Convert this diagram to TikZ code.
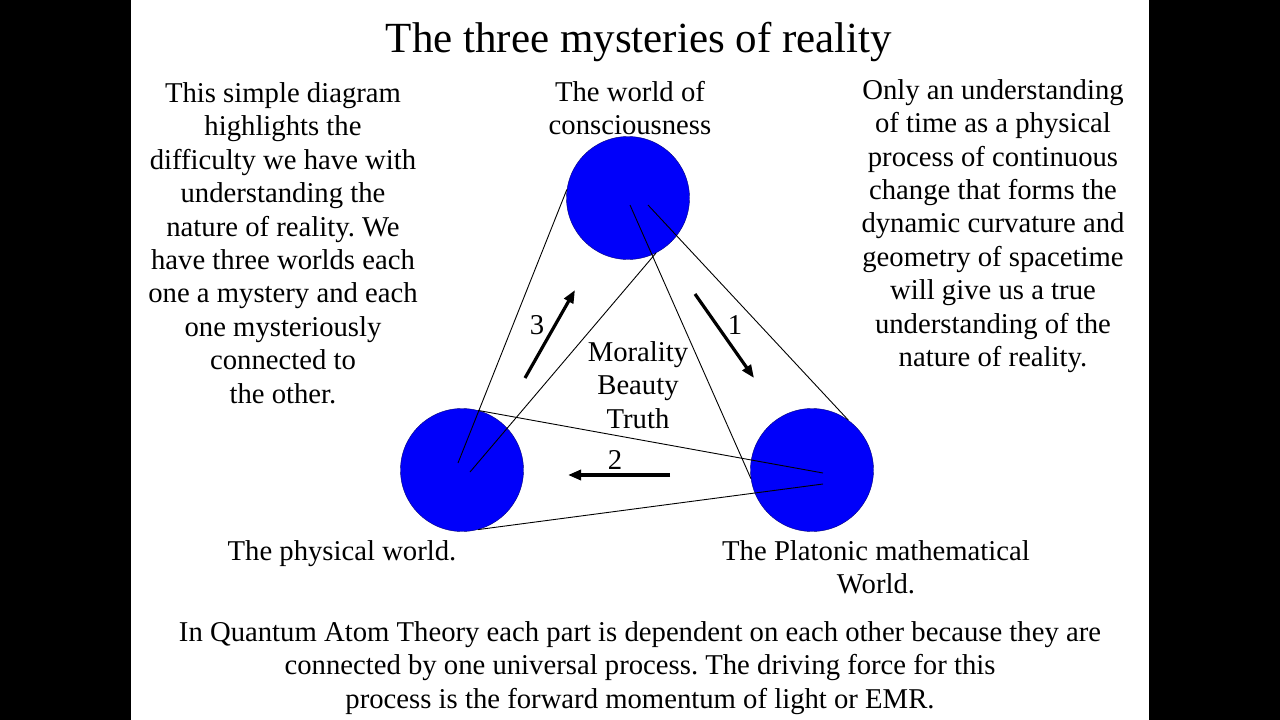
\documentclass[tikz,border=0pt]{standalone}
\usepackage{fontspec}
\setmainfont{Liberation Serif}
\usetikzlibrary{arrows.meta, positioning, calc}
\frenchspacing
\definecolor{worldblue}{RGB}{0,0,250}
\definecolor{worldedge}{RGB}{0,0,120}
\tikzset{
  world/.style  = {circle, fill=worldblue, draw=worldedge, thin, minimum size=123pt, inner sep=0pt},
  txt/.style    = {align=center, inner sep=0pt, font=\fontsize{28.7}{33.4}\selectfont},
  link/.style   = {draw=black, line width=0.9pt},
  flow/.style   = {-{Triangle[length=13pt, width=10pt]}, line width=3.2pt},
}

\begin{document}
\begin{tikzpicture}[x=1pt, y=-1pt]
  \useasboundingbox (0,0) rectangle (1280,720);
  % slide and side bars
  \fill[white] (131,0) rectangle (1149,720);
  \fill[black] (0,0) rectangle (131,720);
  \fill[black] (1149,0) rectangle (1280,720);

  \node[txt, font=\fontsize{43}{50}\selectfont] (title) at (639,42) {The three mysteries of reality};

  % the three worlds
  \node[world] (mind)  at (628,198) {};
  \node[world] (phys)  at (462,470) {};
  \node[world] (plato) at (812,470) {};

  \node[txt] (mindlbl)  at (630,108) {The world of\\consciousness};
  \node[txt] (physlbl)  at (342,554) {The physical world.};
  \node[txt] (platolbl) at (876,567) {The Platonic mathematical\\World.};

  % connections
  \draw[link] (mind.172) -- ($(phys)+(-4,-7)$);
  \draw[link] ($(mind)+(2,7)$) -- (plato.188);
  \draw[link] ($(mind)+(20,7)$) -- (plato.54);
  \draw[link] (mind.-63) -- ($(phys)+(8,2)$);
  \draw[link] (phys.75) -- ($(plato)+(11,3)$);
  \draw[link] (phys.-75) -- ($(plato)+(11,14)$);

  % direction of the process
  \coordinate (a3s) at (525,378); \coordinate (a3e) at (575,290);
  \coordinate (a1s) at (695,294); \coordinate (a1e) at (754,378);
  \coordinate (a2s) at (670,475); \coordinate (a2e) at (568,475);
  \draw[flow] (a1s) -- (a1e);
  \draw[flow] (a2s) -- (a2e);
  \draw[flow] (a3s) -- (a3e);
  \node[txt] (n1) at (735,325) {1};
  \node[txt] (n2) at (615,460) {2};
  \node[txt] (n3) at (537,325) {3};

  \node[txt] (values) at (638,385) {Morality\\Beauty\\Truth};

  \node[txt] (lefttxt) at (283,243) {This simple diagram\\highlights the\\difficulty we have with\\understanding the\\nature of reality. We\\have three worlds each\\one a mystery and each\\one mysteriously\\connected to\\the other.};
  \node[txt] (righttxt) at (993,226) {Only an understanding\\of time as a physical\\process of continuous\\change that forms the\\dynamic curvature and\\geometry of spacetime\\will give us a true\\understanding of the\\nature of reality.};
  \node[txt] (bottomtxt) at (640,668) {In Quantum Atom Theory each part is dependent on each other because they are\\connected by one universal process. The driving force for this\\process is the forward momentum of light or EMR.};
\end{tikzpicture}
\end{document}
